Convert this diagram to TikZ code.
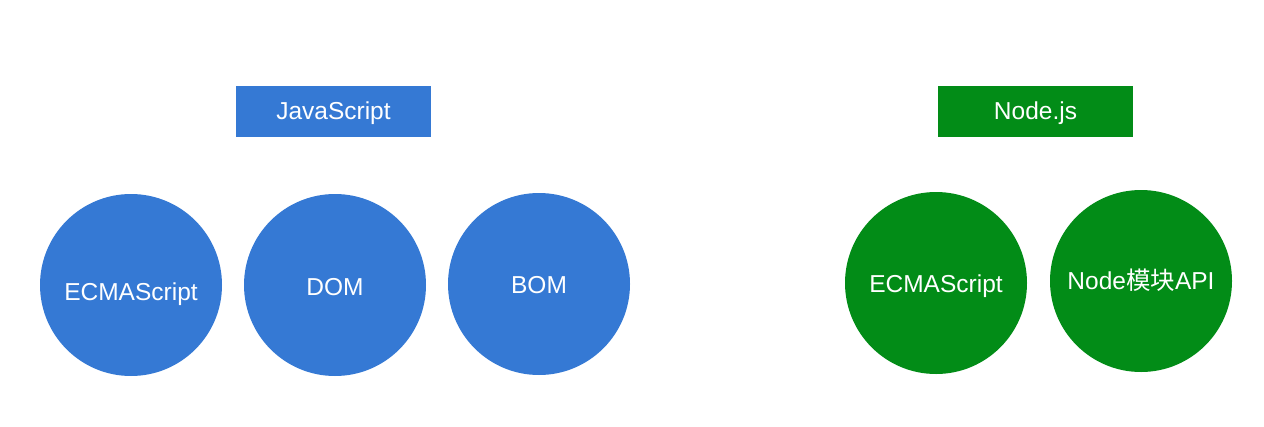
\documentclass[tikz,border=0pt]{standalone}
\usepackage{fontspec}
\setmainfont{Liberation Sans}
\newfontfamily\cjk{Noto Sans CJK SC}
\definecolor{jsblue}{HTML}{3579D4}
\definecolor{nodegreen}{HTML}{028C17}
\newcommand{\lowertext}[2]{\raisebox{-#1}{#2}}
\begin{document}
\begin{tikzpicture}[x=1pt,y=-1pt,
  lbl/.style={text=white,font=\fontsize{24.5}{28}\selectfont,text height=17.5pt,text depth=0pt},
  headbox/.style={lbl,minimum width=195pt,minimum height=51pt,inner sep=0pt},
  ball/.style={lbl,circle,minimum size=182pt,inner sep=0pt}]
\useasboundingbox (0,0) rectangle (1264,426);
\node[headbox,fill=jsblue] (js) at (333.5,111.5) {\lowertext{-0.5pt}{JavaScript}};
\node[headbox,fill=nodegreen] (nd) at (1035.5,111.5) {\lowertext{-1pt}{Node.js}};
\node[ball,fill=jsblue] (ecma1) at (131,285) {\lowertext{6.5pt}{ECMAScript}};
\node[ball,fill=jsblue] (dom) at (335,285) {\lowertext{1.7pt}{DOM}};
\node[ball,fill=jsblue] (bom) at (539,284) {\lowertext{1pt}{BOM}};
\node[ball,fill=nodegreen] (ecma2) at (936,283) {\lowertext{0.7pt}{ECMAScript}};
\node[ball,fill=nodegreen] (api) at (1141,281) {Node{\cjk 模块}API};
\end{tikzpicture}
\end{document}
